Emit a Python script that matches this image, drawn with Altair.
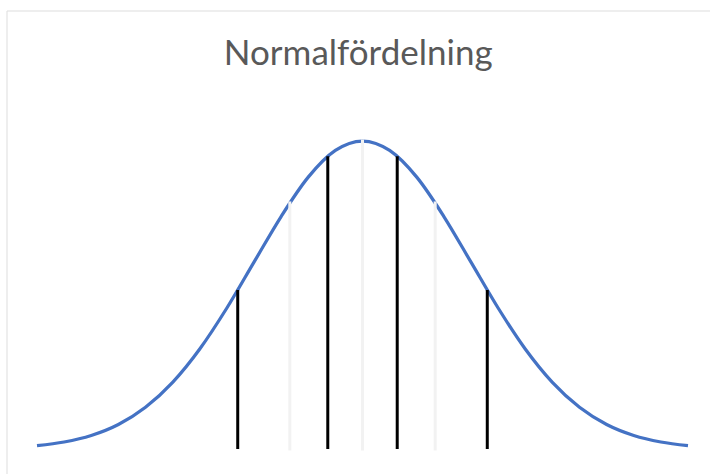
import altair as alt
import pandas as pd

# Standard normal density, sampled along z from -3 to 3
z_vals = [-3.0, -2.75, -2.5, -2.25, -2.0, -1.75, -1.5, -1.25, -1.0, -0.75, -0.5, -0.25,
          0.0, 0.25, 0.5, 0.75, 1.0, 1.25, 1.5, 1.75, 2.0, 2.25, 2.5, 2.75, 3.0]
density = [0.0044, 0.0091, 0.0175, 0.0317, 0.0540, 0.0863, 0.1295, 0.1826, 0.2420, 0.3011,
           0.3521, 0.3867, 0.3989, 0.3867, 0.3521, 0.3011, 0.2420, 0.1826, 0.1295, 0.0863,
           0.0540, 0.0317, 0.0175, 0.0091, 0.0044]

# Vertical markers: position on z and the curve height they reach
dark_z = [-1.15, -0.32, 0.32, 1.15]
dark_top = [0.2059, 0.3790, 0.3790, 0.2059]
light_z = [-0.67, 0.0, 0.67]
light_top = [0.3187, 0.3989, 0.3187]

curve_df = pd.DataFrame({"z": z_vals, "f": density})
dark_df = pd.DataFrame({"z": dark_z, "top": dark_top, "base": 0.0})
light_df = pd.DataFrame({"z": light_z, "top": light_top, "base": 0.0})

x_scale = alt.Scale(domain=[-3, 3], range=[30.5, 681.5])
y_scale = alt.Scale(domain=[0, 0.3989], range=[438.5, 130.5])

curve = alt.Chart(curve_df).mark_line(
    color="#4472C4", strokeWidth=3.25, interpolate="monotone"
).encode(
    x=alt.X("z:Q", scale=x_scale, axis=None),
    y=alt.Y("f:Q", scale=y_scale, axis=None),
)

light = alt.Chart(light_df).mark_rule(color="#F2F2F2", strokeWidth=3, strokeCap="square").encode(
    x=alt.X("z:Q", scale=x_scale, axis=None),
    y=alt.Y("base:Q", scale=y_scale, axis=None),
    y2="top:Q",
)

dark = alt.Chart(dark_df).mark_rule(color="#000000", strokeWidth=3).encode(
    x=alt.X("z:Q", scale=x_scale, axis=None),
    y=alt.Y("base:Q", scale=y_scale, axis=None),
    y2="top:Q",
)

chart = alt.layer(curve, light, dark).properties(
    width=703.5,
    height=472,
    title=alt.TitleParams(
        "Normalfördelning",
        font="Lato",
        fontSize=35,
        fontWeight="normal",
        color="#595959",
        anchor="middle",
        baseline="alphabetic",
        offset=0,
        dy=89,
    ),
    autosize=alt.AutoSizeParams(type="none"),
    padding={"left": 6.5, "top": 10.5, "right": 0, "bottom": 0},
).configure_view(
    stroke="#D9D9D9", strokeWidth=1.5
).configure(background="white")

chart.save("out.html", embed_options={"renderer": "svg", "actions": False})
